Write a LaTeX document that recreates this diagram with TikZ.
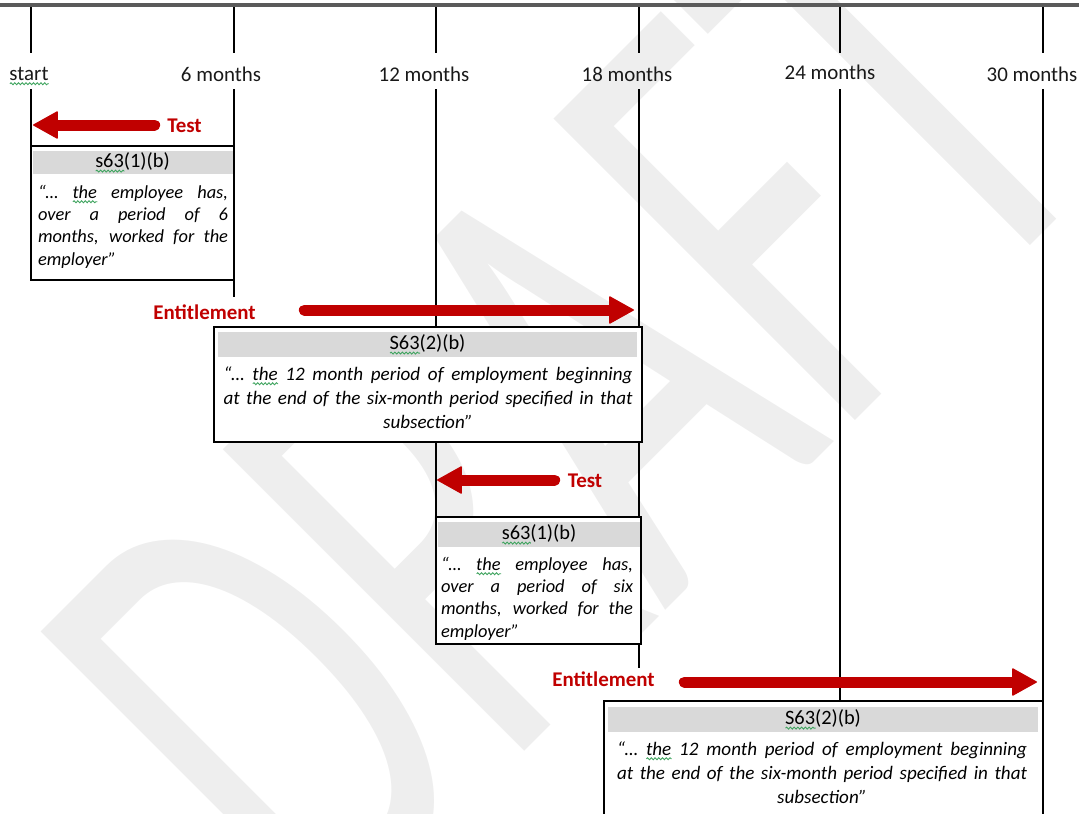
\documentclass[tikz,border=0pt]{standalone}
\usepackage{fontspec}
\setmainfont{Carlito}
\usetikzlibrary{arrows.meta,decorations.pathmorphing}
\definecolor{myred}{HTML}{C00000}
\definecolor{hdrgray}{HTML}{D9D9D9}
\definecolor{wmgray}{HTML}{EEEEEE}
\definecolor{topbar}{HTML}{5A5A5A}
\definecolor{sqgreen}{HTML}{3DA35D}
\newdimen\pxu \pxu=0.75pt
\newlength\sqw
\newcommand\gsq[1]{\settowidth\sqw{#1}\rlap{\tikz[baseline=0pt]\draw[draw=sqgreen, fill=none, line width=0.65pt, decorate, decoration={snake, amplitude=0.75pt, segment length=2.8pt}] (0pt,-2.8pt) -- (\sqw,-2.8pt);}#1}
\newcommand\jl[2]{\hbox to #1{#2}}
\newcommand\lline[2]{\hbox to #1{#2\hfil}}
\newcommand\ctrline[2]{\hbox to #1{\hfil#2\hfil}}
\begin{document}
\begin{tikzpicture}[x=0.75pt,y=-0.75pt,
  wmark/.style={text=wmgray, inner sep=0pt, font=\fontsize{313.5}{313.5}\selectfont},
  tline/.style={black, line width=1.5pt},
  box/.style={draw=black, line width=0.9pt, fill=white, inner sep=0pt, outer sep=0pt},
  hdr/.style={fill=hdrgray, inner sep=0pt, outer sep=0pt, text=black, font=\fontsize{15.3}{18}\selectfont},
  lbl/.style={inner sep=0pt, anchor=base, text=black!90, font=\fontsize{15.7}{18}\selectfont},
  redlbl/.style={inner sep=0pt, anchor=base, text=myred, font=\bfseries\fontsize{15.7}{18}\selectfont},
  bodyA/.style={inner sep=0pt, anchor=base, text=black, font=\itshape\fontsize{13.8}{16.8}\selectfont},
  bodyB/.style={inner sep=0pt, anchor=base, text=black, font=\itshape\fontsize{14.3}{18}\selectfont},
  bigarrow/.style={draw=myred, line width=8.25pt, line cap=round, -{Triangle[length=19pt,width=21pt,line width'=0.8pt,round]}}
]
\useasboundingbox (0,0) rectangle (1079,814);
\clip (0,0) rectangle (1079,814);
% watermark
\node[wmark, rotate=45, anchor=base west] (wm) at (322,954) {\scalebox{1}[1.59]{DRAFT}};
% top bar
\coordinate (barL) at (0,5);
\coordinate (barR) at (1079,5);
\draw[topbar, line width=3pt] (barL) -- (barR);
% time lines
\foreach \i/\x/\yb in {0/31/245,1/234/297,2/436/644,3/639/668,4/840/701,5/1043/814} {
  \coordinate (top\i) at (\x,7);
  \coordinate (gapA\i) at (\x,53);
  \coordinate (gapB\i) at (\x,89);
  \coordinate (bot\i) at (\x,\yb);
  \draw[tline] (top\i) -- (gapA\i);
  \draw[tline] (gapB\i) -- (bot\i);
}
% labels
\node[lbl] (lab0) at (29,80) {\gsq{start}};
\node[lbl] (lab1) at (221,81) {6 months};
\node[lbl] (lab2) at (424,81) {12 months};
\node[lbl] (lab3) at (627,81) {18 months};
\node[lbl] (lab4) at (830,79.5) {24 months};
\node[lbl] (lab5) at (1032,81) {30 months};
% box 1
\node[box, minimum width=203\pxu, minimum height=134\pxu] (box1) at (132.5,213) {};
\node[hdr, minimum width=200\pxu, minimum height=23\pxu] (hdr1) at (132.5,162.5) {\gsq{s63}(1)(b)};
\node[bodyA] (body1) at (133,198) {\vtop{%
  \jl{190\pxu}{“… \gsq{the} employee has,}%
  \jl{190\pxu}{over a period of 6}%
  \jl{190\pxu}{months, worked for the}%
  \lline{190\pxu}{employer”}}};
% box 2
\node[box, minimum width=428\pxu, minimum height=115\pxu] (box2) at (428,384.5) {};
\node[hdr, minimum width=419\pxu, minimum height=25\pxu] (hdr2) at (427.5,344.5) {\gsq{S63}(2)(b)};
\node[bodyB] (body2) at (428,380) {\vtop{%
  \jl{409\pxu}{“… \gsq{the} 12 month period of employment beginning}%
  \jl{409\pxu}{at the end of the six-month period specified in that}%
  \ctrline{409\pxu}{subsection”}}};
% box 3
\node[box, minimum width=205\pxu, minimum height=127\pxu] (box3) at (538.5,580.5) {};
\node[hdr, minimum width=202\pxu, minimum height=25\pxu] (hdr3) at (539,534.5) {\gsq{s63}(1)(b)};
\node[bodyA] (body3) at (537,570) {\vtop{%
  \jl{192\pxu}{“… \gsq{the} employee has,}%
  \jl{192\pxu}{over a period of six}%
  \jl{192\pxu}{months, worked for the}%
  \lline{192\pxu}{employer”}}};
% box 4
\node[box, minimum width=439\pxu, minimum height=139\pxu] (box4) at (823.5,770.5) {};
\node[hdr, minimum width=430\pxu, minimum height=25\pxu] (hdr4) at (823,719.5) {\gsq{S63}(2)(b)};
\node[bodyB] (body4) at (822,755) {\vtop{%
  \jl{410\pxu}{“… \gsq{the} 12 month period of employment beginning}%
  \jl{410\pxu}{at the end of the six-month period specified in that}%
  \ctrline{410\pxu}{subsection”}}};
% arrows
\node[redlbl] (test1) at (184.5,132) {Test};
\coordinate (tail1) at (154.7,125);
\coordinate (tip1) at (33,125);
\draw[bigarrow] (tail1) -- (tip1);
\node[redlbl] (ent1) at (204.5,319) {Entitlement};
\coordinate (tail2) at (304.3,310);
\coordinate (tip2) at (634,310);
\draw[bigarrow] (tail2) -- (tip2);
\node[redlbl] (test2) at (585,487) {Test};
\coordinate (tail3) at (554.7,480);
\coordinate (tip3) at (437,480);
\draw[bigarrow] (tail3) -- (tip3);
\node[redlbl] (ent2) at (603.5,686) {Entitlement};
\coordinate (tail4) at (684.3,682);
\coordinate (tip4) at (1037,682);
\draw[bigarrow] (tail4) -- (tip4);
\end{tikzpicture}
\end{document}
